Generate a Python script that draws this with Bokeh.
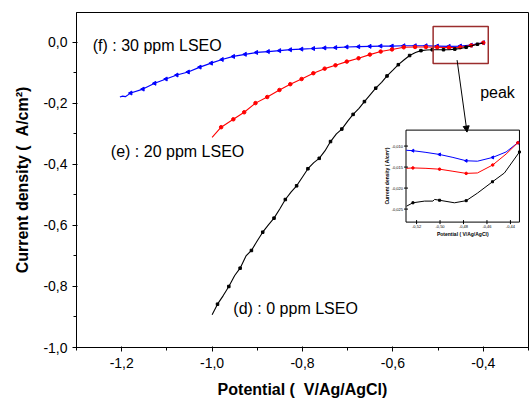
import math
from bokeh.plotting import figure
from bokeh.models import (Range1d, FixedTicker, CustomJSTickFormatter, Label,
                          BoxAnnotation, Arrow, NormalHead)
from bokeh.core.properties import value
from bokeh.embed import file_html
from bokeh.resources import INLINE

# ---------------- main data ----------------
# (f) 30 ppm LSEO (blue): short noisy lead-in, then marked points
blue_lead_x = [-1.204, -1.198, -1.192, -1.186]
blue_lead_y = [-0.179, -0.176, -0.178, -0.172]
blue_x = [-1.180, -1.153, -1.127, -1.102, -1.078, -1.053, -1.027, -1.002, -0.978,
          -0.953, -0.927, -0.902, -0.876, -0.851, -0.827, -0.802, -0.776, -0.751,
          -0.727, -0.702, -0.676, -0.651, -0.627, -0.602, -0.576, -0.551, -0.527,
          -0.502, -0.476, -0.451, -0.427, -0.400]
blue_y = [-0.166, -0.153, -0.134, -0.120, -0.107, -0.097, -0.081, -0.068, -0.056,
          -0.046, -0.039, -0.033, -0.030, -0.027, -0.024, -0.022, -0.020, -0.018,
          -0.017, -0.015, -0.014, -0.013, -0.012, -0.012, -0.011, -0.011, -0.011,
          -0.012, -0.013, -0.012, -0.009, -0.001]

# (e) 20 ppm LSEO (red)
red_x = [-1.000, -0.980, -0.953, -0.929, -0.904, -0.878, -0.851, -0.827, -0.802,
         -0.776, -0.751, -0.727, -0.702, -0.676, -0.651, -0.627, -0.602, -0.576,
         -0.551, -0.527, -0.502, -0.476, -0.451, -0.427, -0.400]
red_y = [-0.311, -0.278, -0.252, -0.229, -0.199, -0.179, -0.156, -0.137, -0.120,
         -0.101, -0.086, -0.075, -0.063, -0.052, -0.040, -0.030, -0.023, -0.016,
         -0.015, -0.015, -0.016, -0.017, -0.016, -0.010, -0.001]

# (d) 0 ppm LSEO (black)
black_x = [-1.000, -0.988, -0.975, -0.963, -0.950, -0.938, -0.925, -0.913, -0.900,
           -0.888, -0.875, -0.863, -0.850, -0.838, -0.825, -0.813, -0.800, -0.788,
           -0.775, -0.763, -0.750, -0.738, -0.725, -0.713, -0.700, -0.688, -0.675,
           -0.663, -0.650, -0.638, -0.625, -0.613, -0.600, -0.588, -0.575, -0.563,
           -0.550, -0.538, -0.525, -0.513, -0.500, -0.488, -0.475, -0.463, -0.450,
           -0.438, -0.425, -0.413, -0.400]
black_y = [-0.893, -0.858, -0.829, -0.800, -0.764, -0.740, -0.700, -0.682, -0.650,
           -0.622, -0.597, -0.576, -0.545, -0.515, -0.490, -0.470, -0.441, -0.414,
           -0.394, -0.380, -0.355, -0.325, -0.300, -0.284, -0.258, -0.236, -0.216,
           -0.194, -0.171, -0.150, -0.131, -0.110, -0.091, -0.073, -0.057, -0.043,
           -0.033, -0.027, -0.025, -0.024, -0.024, -0.024, -0.024, -0.022, -0.020,
           -0.016, -0.011, -0.006, -0.002]

x_major = [-1.2, -1.0, -0.8, -0.6, -0.4]
x_minor = [-1.3, -1.1, -0.9, -0.7, -0.5, -0.3]
y_major = [0.0, -0.2, -0.4, -0.6, -0.8, -1.0]
y_minor = [-0.1, -0.3, -0.5, -0.7, -0.9]

# ---------------- inset data ----------------
inset_x = [-0.5288, -0.5231, -0.5120, -0.5004, -0.4890, -0.4777, -0.4681, -0.4551,
           -0.4437, -0.4337]
inset_blue = [-0.0110, -0.0111, -0.0115, -0.0120, -0.0127, -0.0135, -0.0136, -0.0127,
              -0.0114, -0.0092]
inset_red = [-0.0153, -0.0152, -0.0153, -0.0155, -0.0160, -0.0165, -0.0164, -0.0145,
             -0.0119, -0.0092]
inset_black_x = [-0.5285, -0.5231, -0.5132, -0.5061, -0.5047, -0.5004, -0.4877,
                 -0.4777, -0.4681, -0.4553, -0.4451, -0.4323]
inset_black = [-0.0243, -0.0235, -0.0231, -0.0231, -0.0227, -0.0229, -0.0235,
               -0.0230, -0.0212, -0.0185, -0.0164, -0.0114]
inset_black_marks = [1, 5, 7, 9, 11]
inset_xticks = [-0.52, -0.50, -0.48, -0.46, -0.44]
inset_yticks = [-0.010, -0.015, -0.020, -0.025]
inset_xlim = (-0.5290, -0.4323)
inset_ylim = (-0.0281, -0.0062)

FONT = "Liberation Sans"
NB = "\u00a0"

p = figure(width=529, height=403, output_backend="svg", toolbar_location=None,
           x_range=Range1d(-1.3, -0.3), y_range=Range1d(-1.0, 0.098),
           min_border_left=76, min_border_right=1, min_border_top=12,
           min_border_bottom=56)
p.grid.visible = False
p.outline_line_color = "black"
p.outline_line_width = 1
p.background_fill_color = "white"
p.border_fill_color = "white"

fmt = CustomJSTickFormatter(code="return tick.toFixed(1).replace('.', ',');")
p.xaxis.ticker = FixedTicker(ticks=x_major, minor_ticks=x_minor)
p.yaxis.ticker = FixedTicker(ticks=y_major, minor_ticks=y_minor)
for ax in (p.xaxis[0], p.yaxis[0]):
    ax.formatter = fmt
    ax.axis_line_color = "black"
    ax.major_tick_line_color = "black"
    ax.minor_tick_line_color = "black"
    ax.major_tick_in = 1
    ax.major_tick_out = 4
    ax.minor_tick_in = 0
    ax.minor_tick_out = 3
    ax.major_label_text_font = FONT
    ax.major_label_text_font_size = "14px"
    ax.major_label_text_color = "black"
    ax.axis_label_text_font = FONT
    ax.axis_label_text_font_size = "16px"
    ax.axis_label_text_font_style = "bold"
    ax.axis_label_text_color = "black"

p.xaxis.axis_label = "Potential (" + NB + NB + "V/Ag/AgCl)"
p.xaxis.major_label_standoff = 6
p.xaxis.axis_label_standoff = 10
p.yaxis.axis_label = "Current density (" + NB + NB + "A/cm\u00b2)"
p.yaxis.major_label_standoff = 5
p.yaxis.axis_label_standoff = 9

# curves
p.line(blue_lead_x + blue_x, blue_lead_y + blue_y, line_color="#0000ff", line_width=1.2)
p.scatter(blue_x, blue_y, marker="triangle", angle=math.pi / 2, size=4,
          color="#0000ff")
p.line(red_x, red_y, line_color="#ff0000", line_width=1.1)
p.scatter(red_x[1:], red_y[1:], marker="circle", size=3.5, color="#ff0000")
p.line(black_x, black_y, line_color="black", line_width=1.1)
p.scatter(black_x[1::2], black_y[1::2], marker="square", size=2.5, color="black")

# texts
for txt, x, y in [("(f) : 30 ppm LSEO", -1.264, -0.009),
                  ("(e) : 20 ppm LSEO", -1.224, -0.356),
                  ("(d) : 0 ppm LSEO", -0.953, -0.871),
                  ("peak", -0.407, -0.163)]:
    p.add_layout(Label(x=x, y=y, text=txt, text_font=FONT, text_font_size="16px",
                       text_baseline="middle", text_align="left", text_color="black"))

# highlight box & arrow
p.add_layout(BoxAnnotation(left=-0.511, right=-0.389, top=0.052, bottom=-0.069,
                           fill_alpha=0, line_color="#9b2d2d", line_alpha=1,
                           line_width=1.5))
p.add_layout(Arrow(end=NormalHead(size=6, fill_color="black", line_color="black"),
                   x_start=-0.458, y_start=-0.058, x_end=-0.436, y_end=-0.294,
                   line_color="black", line_width=1))

# ---------------- inset ----------------
ins = p.subplot(x_source=Range1d(*inset_xlim), y_source=Range1d(*inset_ylim),
                x_target=Range1d(-0.571, -0.320), y_target=Range1d(-0.589, -0.2875))
ins.quad(left=[inset_xlim[0]], right=[inset_xlim[1]], bottom=[inset_ylim[0]],
         top=[inset_ylim[1]], fill_color=None, line_color="black", line_width=1)
ins.line(inset_x, inset_blue, line_color="#0000ff", line_width=1)
ins.scatter(inset_x[1::2], inset_blue[1::2], marker="triangle", angle=math.pi / 2,
            size=3, color="#0000ff")
ins.line(inset_x, inset_red, line_color="#ff0000", line_width=1)
ins.scatter(inset_x[1::2], inset_red[1::2], marker="circle", size=2.5, color="#ff0000")
ins.line(inset_black_x, inset_black, line_color="black", line_width=1)
ins.scatter([inset_black_x[i] for i in inset_black_marks],
            [inset_black[i] for i in inset_black_marks], marker="square", size=2,
            color="black")
# inset ticks
ins.scatter(inset_xticks, [inset_ylim[0]] * len(inset_xticks), marker="dash",
            angle=math.pi / 2, size=4, line_color="black")
ins.scatter([inset_xlim[0]] * len(inset_yticks), inset_yticks, marker="dash",
            size=4, line_color="black")
ins.text(inset_xticks, [inset_ylim[0]] * len(inset_xticks),
         text=[("%.2f" % t).replace(".", ",") for t in inset_xticks],
         text_font=value(FONT), text_font_size=value("4px"), text_align="center",
         text_baseline="top", y_offset=3, text_color="black")
ins.text([inset_xlim[0]] * len(inset_yticks), inset_yticks,
         text=[("%.3f" % t).replace(".", ",") for t in inset_yticks],
         text_font=value(FONT), text_font_size=value("4px"), text_align="right",
         text_baseline="middle", x_offset=-3, text_color="black")
ins.text([(inset_xlim[0] + inset_xlim[1]) / 2], [inset_ylim[0]],
         text=["Potential (" + NB + "V/Ag/AgCl)"], text_font=value(FONT),
         text_font_size=value("5px"), text_font_style="bold", text_align="center",
         text_baseline="top", y_offset=9, text_color="black")
ins.text([inset_xlim[0]], [(inset_ylim[0] + inset_ylim[1]) / 2],
         text=["Current density (" + NB + "A/cm\u00b2)"], text_font=value(FONT),
         text_font_size=value("5px"), text_font_style="bold", text_align="center",
         text_baseline="bottom", angle=math.pi / 2, x_offset=-16, text_color="black")

open("out.html", "w").write(file_html(p, INLINE))
